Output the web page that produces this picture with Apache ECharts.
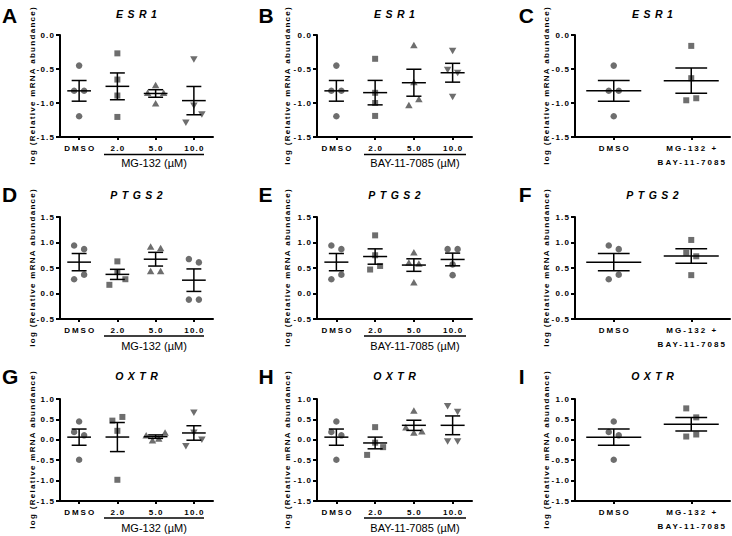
<!DOCTYPE html>
<html><head><meta charset="utf-8">
<script src="https://cdn.jsdelivr.net/npm/echarts@6/dist/echarts.min.js"></script>
<style>html,body{margin:0;padding:0;background:#fff}#chart{width:732px;height:536px}</style>
</head><body><div id="chart"></div>
<script>
// ---------- DATA ----------
const doseLabels = ['DMSO', '2.0', '5.0', '10.0'];
const comboLabels = ['DMSO', 'MG-132 +\nBAY-11-7085'];
const geneNames = ['ESR1', 'PTGS2', 'OXTR'];
const panelLetters = ['A', 'B', 'C', 'D', 'E', 'F', 'G', 'H', 'I'];
const treatmentNames = ['MG-132 (µM)', 'BAY-11-7085 (µM)'];
const yAxisTitle = 'log (Relative mRNA abundance)';
const yMin = [-1.5, -0.5, -1.5];
const yMax = [0.0, 1.5, 1.0];
const yStep = 0.5;

// DMSO controls (shared across a row)
const dmsoESR1 = [-0.45, -0.82, -0.82, -1.195];
const dmsoPTGS2 = [0.94, 0.87, 0.28, 0.37];
const dmsoOXTR = [0.45, 0.19, 0.11, -0.49];

// MG-132 2.0 / 5.0 / 10.0 µM
const esr1MG = [[-0.27, -0.655, -0.89, -1.205], [-0.85, -0.735, -0.85, -1.005], [-0.36, -1.29, -1.04, -1.17]];
const ptgs2MG = [[0.63, 0.17, 0.42, 0.28], [0.92, 0.89, 0.44, 0.44], [0.675, 0.61, -0.12, -0.12]];
const oxtrMG = [[0.47, 0.56, 0.22, -0.98], [0.11, -0.01, 0.03, 0.18], [0.66, -0.16, 0.17, 0.0]];

// BAY-11-7085 2.0 / 5.0 / 10.0 µM
const esr1BAY = [[-0.35, -0.85, -1.0, -1.19], [-0.147, -0.69, -1.03, -0.94], [-0.235, -0.515, -0.56, -0.91]];
const ptgs2BAY = [[1.14, 0.75, 0.47, 0.54], [0.81, 0.61, 0.59, 0.22], [0.87, 0.87, 0.57, 0.36]];
const oxtrBAY = [[0.31, -0.37, -0.07, -0.18], [0.72, 0.31, 0.18, 0.21], [0.82, 0.68, -0.04, -0.04]];

// MG-132 + BAY-11-7085
const esr1Combo = [-0.16, -0.635, -0.96, -0.93];
const ptgs2Combo = [1.05, 0.80, 0.73, 0.36];
const oxtrCombo = [0.77, 0.55, 0.08, 0.13];

// ---------- LAYOUT / STYLE ----------
const FONT = 'Arial, "Liberation Sans", Helvetica, sans-serif';
const GRAY = '#6e6e6e';
const colLeft = [60, 317, 575];
const colWidth = [153, 155, 155];
const rowTop = [35, 217, 399];
const gridH = 102;
const yNameGap = [22, 26, 25];
const letterX = [2, 258.5, 518.7];
const letterY = [15.5, 194, 376];
const titleY = [14, 195, 376];
const underlineY = [154.5, 336, 518];
const treatY = [163, 346, 527.5];
const underlineX = [[104, 204], [364, 466]];
const rowShapes = [
  ['circle', 'rect', 'triangle', 'triangleDown'],
  ['circle', 'rect', 'triangle', 'circle'],
  ['circle', 'rect', 'triangle', 'triangleDown']
];
const SPREAD = {2: 10, 3: 8, 4: 6.3};
const CLUSTER_PX = 9.5;

const dmsoRows = [dmsoESR1, dmsoPTGS2, dmsoOXTR];
const mgRows = [esr1MG, ptgs2MG, oxtrMG];
const bayRows = [esr1BAY, ptgs2BAY, oxtrBAY];
const comboRows = [esr1Combo, ptgs2Combo, oxtrCombo];

function mean(a) { return a.reduce((s, v) => s + v, 0) / a.length; }
function sem(a) {
  const m = mean(a);
  const sd = Math.sqrt(a.reduce((s, v) => s + (v - m) * (v - m), 0) / (a.length - 1));
  return sd / Math.sqrt(a.length);
}
// horizontal spreading of overlapping replicates (like dot-plot jitter)
function spread(values, pxPerUnit) {
  const n = values.length;
  const idx = values.map((v, i) => i).sort((a, b) => values[b] - values[a]);
  const offs = new Array(n).fill(0);
  let cluster = [idx[0]];
  const flush = () => {
    if (cluster.length > 1) {
      const k = cluster.length, s = SPREAD[k] || 6;
      cluster.slice().sort((a, b) => a - b).forEach((j, q) => { offs[j] = (q - (k - 1) / 2) * s; });
    }
  };
  for (let q = 1; q < n; q++) {
    const a = idx[q - 1], b = idx[q];
    if ((values[a] - values[b]) * pxPerUnit < CLUSTER_PX) cluster.push(b);
    else { flush(); cluster = [b]; }
  }
  flush();
  return offs;
}

const grids = [], xAxes = [], yAxes = [], series = [], graphics = [];
let pi = 0;
for (let r = 0; r < 3; r++) {
  for (let c = 0; c < 3; c++) {
    const groups = c === 0 ? [dmsoRows[r], ...mgRows[r]] :
                   c === 1 ? [dmsoRows[r], ...bayRows[r]] :
                             [dmsoRows[r], comboRows[r]];
    const cats = c === 2 ? comboLabels : doseLabels;
    const shapes = c === 2 ? ['circle', 'rect'] : rowShapes[r];
    const pxPerUnit = gridH / (yMax[r] - yMin[r]);
    grids.push({left: colLeft[c], top: rowTop[r], width: colWidth[c], height: gridH,
                containLabel: false, outerBoundsMode: 'none'});
    xAxes.push({
      type: 'category', gridIndex: pi, data: cats, boundaryGap: true,
      axisLine: {show: true, onZero: false, lineStyle: {color: '#000', width: 2}},
      axisTick: {show: true, alignWithLabel: true, length: 3, lineStyle: {color: '#000', width: 2}},
      axisLabel: {interval: 0, margin: 4, color: '#000', fontSize: 8, fontWeight: 'bold',
                  fontFamily: FONT, lineHeight: 14},
      splitLine: {show: false}
    });
    yAxes.push({
      type: 'value', gridIndex: pi, min: yMin[r], max: yMax[r], interval: yStep,
      axisLine: {show: true, onZero: false, lineStyle: {color: '#000', width: 2}},
      axisTick: {show: true, length: 4, lineStyle: {color: '#000', width: 2}},
      axisLabel: {formatter: v => v.toFixed(1), margin: 6, color: '#000', fontSize: 8,
                  fontWeight: 'bold', fontFamily: FONT},
      splitLine: {show: false},
      name: yAxisTitle, nameLocation: 'middle', nameGap: yNameGap[c],
      nameTextStyle: {color: '#000', fontSize: 8, fontWeight: 'bold', fontFamily: FONT}
    });
    const pts = [];
    groups.forEach((g, gi) => {
      const offs = spread(g, pxPerUnit);
      const shp = shapes[gi];
      g.forEach((v, k) => {
        const down = shp === 'triangleDown';
        const tri = shp === 'triangle' || down;
        pts.push({
          value: [gi, v],
          symbol: tri ? 'triangle' : shp,
          symbolRotate: down ? 180 : 0,
          symbolSize: tri ? [7.5, 6.5] : (shp === 'rect' ? 6 : 6.5),
          symbolOffset: [offs[k], 0]
        });
      });
    });
    series.push({type: 'scatter', xAxisIndex: pi, yAxisIndex: pi, data: pts, silent: true,
                 itemStyle: {color: GRAY, opacity: 1}, z: 2});
    const meanFrac = cats.length === 2 ? 0.71 : 0.62;
    const capFrac = cats.length === 2 ? 0.41 : 0.39;
    series.push({
      type: 'custom', xAxisIndex: pi, yAxisIndex: pi, coordinateSystem: 'cartesian2d',
      encode: {x: 0, y: 1}, silent: true, z: 5,
      data: groups.map((g, gi) => [gi, mean(g), sem(g)]),
      renderItem: (params, api) => {
        const x = api.value(0), m = api.value(1), s = api.value(2);
        const p = api.coord([x, m]);
        const hi = api.coord([x, m + s]), lo = api.coord([x, m - s]);
        const band = api.size([1, 0])[0];
        const mh = band * meanFrac / 2, ch = band * capFrac / 2;
        const st = {stroke: '#000', lineWidth: 1.5};
        return {type: 'group', children: [
          {type: 'line', shape: {x1: p[0] - mh, y1: p[1], x2: p[0] + mh, y2: p[1]}, style: st},
          {type: 'line', shape: {x1: p[0], y1: hi[1], x2: p[0], y2: lo[1]}, style: st},
          {type: 'line', shape: {x1: p[0] - ch, y1: hi[1], x2: p[0] + ch, y2: hi[1]}, style: st},
          {type: 'line', shape: {x1: p[0] - ch, y1: lo[1], x2: p[0] + ch, y2: lo[1]}, style: st}
        ]};
      }
    });
    // panel letter
    graphics.push({type: 'text', x: letterX[c], y: letterY[r], silent: true,
      style: {text: panelLetters[pi], fill: '#000', font: 'bold 21px ' + FONT,
              align: 'left', verticalAlign: 'middle', textAlign: 'left', textVerticalAlign: 'middle'}});
    // gene title
    graphics.push({type: 'text', x: colLeft[c] + colWidth[c] / 2, y: titleY[r], silent: true,
      style: {text: geneNames[r], fill: '#000', font: 'italic bold 10.5px ' + FONT,
              align: 'center', verticalAlign: 'middle', textAlign: 'center', textVerticalAlign: 'middle'}});
    if (c < 2) {
      graphics.push({type: 'line', silent: true,
        shape: {x1: underlineX[c][0], y1: underlineY[r], x2: underlineX[c][1], y2: underlineY[r]},
        style: {stroke: '#000', lineWidth: 1.3}});
      graphics.push({type: 'text', x: (underlineX[c][0] + underlineX[c][1]) / 2, y: treatY[r], silent: true,
        style: {text: treatmentNames[c], fill: '#000', font: '11px ' + FONT,
                align: 'center', verticalAlign: 'middle', textAlign: 'center', textVerticalAlign: 'middle'}});
    }
    pi++;
  }
}

const chart = echarts.init(document.getElementById('chart'), null, {renderer: 'svg'});
chart.setOption({
  animation: false,
  backgroundColor: '#fff',
  grid: grids, xAxis: xAxes, yAxis: yAxes, series: series, graphic: graphics
});

// letter-spacing of the small bold labels, as in the original figure
function applySpacing() {
  const wide = ['DMSO', 'MG-132 +', 'BAY-11-7085'];
  document.querySelectorAll('#chart text').forEach(t => {
    const s = (t.textContent || '').trim();
    let ls = 0;
    if (geneNames.includes(s)) ls = 4.5;
    else if (s === yAxisTitle) ls = 1.3;
    else if (/^-?\d+\.\d$/.test(s)) ls = 1.2;
    else if (wide.includes(s)) ls = 2;
    if (!ls) return;
    t.style.letterSpacing = ls + 'px';
    const anchor = t.getAttribute('text-anchor') || t.style.textAnchor;
    if (anchor === 'middle') t.setAttribute('dx', (ls / 2).toFixed(2));
    else if (anchor === 'end') t.setAttribute('dx', ls.toFixed(2));
  });
}
applySpacing();
setTimeout(applySpacing, 50);
</script>
</body></html>
